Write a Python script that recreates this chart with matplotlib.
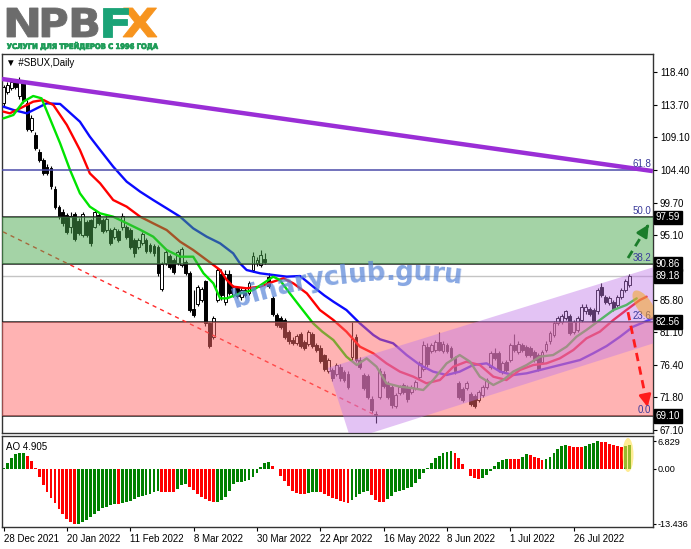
import numpy as np
import matplotlib
matplotlib.use("Agg")
import matplotlib.pyplot as plt
from matplotlib.patches import Polygon, Ellipse, PathPatch
from matplotlib.transforms import IdentityTransform, blended_transform_factory, Affine2D
from matplotlib.textpath import TextPath
from matplotlib.font_manager import FontProperties

# ---------------- data ----------------
date_labels = ["28 Dec 2021", "20 Jan 2022", "11 Feb 2022", "8 Mar 2022", "30 Mar 2022",
               "22 Apr 2022", "16 May 2022", "8 Jun 2022", "1 Jul 2022", "26 Jul 2022"]
date_label_bars = [0, 16, 32, 48, 64, 80, 96, 112, 128, 144]

opens = [113.9, 115.6, 116.1, 117.0, 115.0, 116.8, 113.9, 110.1, 109.4, 107.0,
         105.8, 104.8, 104.6, 101.7, 99.1, 98.4, 97.9, 96.2, 98.0, 97.0,
         95.1, 96.9, 97.2, 96.2, 97.9, 97.2, 95.8, 95.7, 94.8, 95.6,
         96.2, 96.2, 95.7, 94.3, 93.3, 93.9, 94.3, 93.6, 93.5, 93.3,
         87.3, 91.0, 92.0, 91.5, 91.0, 90.8, 91.2, 89.6, 84.5, 85.2,
         85.8, 88.4, 82.4, 80.5, 85.7, 89.5, 85.5, 89.5, 86.5, 87.5,
         86.1, 87.2, 86.7, 90.0, 91.0, 90.8, 91.6, 89.1, 86.0, 83.6,
         83.1, 82.8, 81.2, 80.0, 79.6, 80.9, 79.7, 79.5, 80.8, 79.3,
         78.8, 77.8, 75.5, 75.7, 75.2, 76.2, 75.4, 75.2, 77.5, 80.5,
         77.2, 75.0, 74.8, 71.6, 69.4, 71.9, 75.2, 73.8, 73.3, 70.5,
         72.4, 73.6, 73.3, 72.6, 73.1, 74.7, 75.9, 79.0, 78.5, 78.6,
         79.7, 78.4, 79.3, 78.8, 77.4, 73.8, 73.0, 73.1, 72.2, 72.0,
         71.4, 72.1, 73.3, 76.2, 78.1, 78.1, 75.5, 76.8, 77.1, 79.3,
         78.3, 79.3, 79.0, 78.8, 78.3, 77.8, 76.9, 78.6, 79.8, 80.7,
         82.4, 82.6, 83.1, 83.4, 81.2, 81.4, 82.9, 84.1, 84.5, 84.3,
         84.1, 87.6, 86.2, 85.3, 85.5, 85.0, 86.2, 87.2, 87.9]
highs = [116.6, 117.0, 117.3, 117.4, 117.7, 117.2, 114.4, 112.2, 109.8, 107.3,
         106.1, 105.2, 104.9, 102.0, 99.4, 98.8, 98.2, 98.4, 98.3, 97.5,
         98.3, 97.2, 97.4, 98.8, 98.2, 97.5, 97.7, 96.0, 96.2, 95.9,
         98.2, 96.5, 96.0, 94.6, 94.6, 95.5, 94.6, 93.9, 93.8, 93.6,
         91.2, 92.9, 92.3, 91.8, 92.9, 93.4, 91.5, 89.9, 87.2, 87.9,
         87.6, 88.6, 82.6, 83.5, 90.4, 90.2, 90.0, 90.0, 87.9, 87.8,
         87.5, 87.5, 88.4, 92.6, 91.9, 92.9, 92.4, 89.6, 86.3, 83.9,
         83.4, 83.1, 81.5, 80.4, 80.9, 81.2, 80.0, 81.5, 81.1, 79.6,
         79.3, 78.0, 77.4, 76.0, 76.7, 76.5, 75.7, 75.5, 82.6, 80.8,
         77.5, 75.3, 75.1, 72.0, 69.9, 76.0, 75.6, 74.1, 73.6, 72.4,
         73.6, 73.9, 73.6, 73.6, 74.3, 77.0, 79.8, 79.6, 79.6, 80.0,
         81.2, 79.8, 79.6, 79.1, 77.7, 74.1, 73.3, 74.1, 72.5, 72.3,
         72.9, 73.6, 74.6, 78.4, 78.9, 78.4, 77.0, 77.1, 79.6, 80.8,
         79.8, 79.6, 79.3, 79.1, 78.6, 78.1, 78.6, 79.8, 81.3, 82.7,
         83.4, 83.7, 84.3, 83.7, 82.9, 83.4, 85.1, 85.1, 84.8, 84.6,
         87.5, 88.2, 86.5, 86.3, 85.8, 86.5, 87.5, 88.7, 89.5]
lows = [113.6, 115.3, 115.8, 116.0, 114.6, 114.0, 109.9, 109.8, 107.2, 105.5,
        103.6, 103.6, 101.7, 98.8, 97.4, 96.4, 95.2, 95.3, 94.2, 95.0,
        94.8, 94.8, 93.5, 96.0, 96.5, 95.3, 95.5, 93.6, 94.5, 94.1,
        95.8, 94.5, 93.1, 91.9, 93.0, 93.6, 92.4, 92.5, 92.1, 89.2,
        87.0, 90.7, 90.2, 89.5, 90.7, 90.5, 89.3, 84.0, 83.3, 84.9,
        85.5, 82.0, 78.8, 80.2, 85.4, 85.7, 85.0, 86.4, 86.2, 86.0,
        85.8, 86.1, 86.4, 89.8, 90.6, 90.5, 90.9, 87.4, 83.5, 81.9,
        81.6, 80.2, 79.5, 79.3, 79.3, 78.8, 78.6, 79.2, 78.8, 78.3,
        76.7, 75.6, 75.3, 74.2, 74.9, 74.2, 74.0, 73.0, 77.1, 76.9,
        75.9, 72.8, 71.6, 69.6, 68.1, 71.5, 73.1, 71.6, 70.3, 70.2,
        72.1, 72.3, 71.1, 72.3, 72.8, 74.4, 75.6, 76.2, 78.2, 78.3,
        78.4, 78.1, 78.1, 77.3, 75.2, 71.6, 71.1, 72.8, 70.6, 70.2,
        71.1, 71.8, 73.0, 75.9, 77.1, 75.4, 75.2, 75.4, 76.8, 78.3,
        78.0, 78.3, 77.6, 77.6, 76.8, 75.6, 76.6, 78.3, 79.5, 80.4,
        82.1, 82.3, 82.8, 80.7, 80.9, 81.1, 82.6, 83.8, 83.5, 82.3,
        83.8, 86.2, 85.2, 85.0, 84.2, 84.7, 85.9, 86.9, 87.6]
closes = [116.3, 116.5, 116.9, 116.3, 117.0, 114.4, 110.3, 111.8, 107.5, 105.8,
          103.9, 104.0, 102.0, 99.1, 97.7, 96.7, 95.5, 97.7, 94.5, 95.3,
          98.0, 95.1, 93.9, 98.3, 96.8, 95.6, 97.4, 93.9, 95.9, 94.4,
          97.8, 94.8, 93.4, 92.5, 94.3, 95.2, 92.7, 92.8, 92.4, 89.6,
          90.9, 92.6, 90.5, 89.8, 92.6, 93.1, 89.6, 84.3, 83.6, 87.6,
          87.3, 82.4, 79.1, 83.1, 90.0, 86.5, 89.5, 86.7, 87.6, 86.3,
          87.2, 86.4, 88.1, 92.0, 91.5, 92.2, 91.2, 87.7, 83.8, 82.2,
          81.9, 80.5, 79.8, 79.6, 80.6, 79.1, 78.9, 81.2, 79.1, 78.6,
          77.0, 75.9, 77.1, 74.5, 76.4, 74.5, 74.3, 73.3, 80.2, 77.1,
          76.2, 73.1, 71.9, 70.0, 69.3, 75.5, 73.4, 71.9, 70.7, 72.1,
          73.3, 72.6, 71.5, 73.3, 74.0, 76.7, 79.3, 76.5, 79.3, 79.7,
          78.6, 79.5, 78.4, 77.6, 75.5, 71.9, 71.4, 73.8, 70.9, 70.6,
          72.6, 73.3, 74.3, 78.1, 77.4, 75.7, 76.7, 75.7, 79.3, 78.6,
          79.5, 78.6, 77.9, 77.9, 77.1, 75.9, 78.3, 79.5, 81.0, 82.4,
          83.1, 83.4, 84.1, 81.0, 82.6, 83.1, 84.8, 84.8, 83.8, 82.6,
          87.2, 86.5, 85.5, 86.0, 84.5, 86.2, 87.2, 88.4, 89.18]

# Alligator lines (bar index, price)
jaw_x = [0, 2.5, 5.9, 10.9, 14.3, 16, 19.3, 21.8, 24.4, 27.7, 31.1, 34.5, 37.8, 41.2, 44.6,
         47.9, 51.3, 54.7, 58.0, 59.7, 61.4, 64.8, 68.1, 71.5, 74.9, 78.2, 81.0, 83.3, 86.6,
         90.0, 93.4, 95.1, 98.4, 101.8, 105.2, 108.5, 111.9, 115.2, 118.6, 122.0, 125.4,
         128.7, 132.1, 135.5, 138.8, 142.2, 145.6, 148.9, 152.3, 155.7, 159.0, 164.0]
jaw_y = [113.43, 112.96, 112.48, 113.91, 113.82, 112.96, 111.28, 109.14, 107.23, 104.84,
         102.69, 101.26, 100.06, 98.87, 97.67, 96.00, 94.81, 93.85, 92.42, 90.99, 90.03,
         89.56, 89.32, 89.08, 89.17, 87.65, 86.4, 85.50, 84.30, 82.39, 80.72, 80.10, 79.53,
         77.85, 76.42, 75.47, 74.99, 75.47, 76.42, 76.66, 75.47, 74.99, 75.23, 75.71, 76.18,
         76.66, 77.14, 78.09, 79.14, 80.48, 81.91, 83.11]
teeth_x = [0, 1.6, 4.2, 7.5, 10.1, 12.6, 16, 19.3, 21.8, 24.4, 27.7, 31.1, 34.5, 37.8, 41.2,
           44.6, 47.9, 51.3, 54.7, 56.4, 58, 61.4, 64.8, 68.1, 70.7, 73.2, 76.6, 79.9, 83.3,
           86.6, 90.0, 93.4, 96.7, 100.1, 103.5, 106.8, 110.2, 113.6, 116.9, 120.3, 123.7,
           127.0, 130.4, 133.8, 137.1, 140.5, 143.9, 147.2, 150.6, 154.0, 157.3, 160.7, 162.4]
teeth_y = [112.72, 112.48, 113.19, 114.15, 114.39, 113.67, 110.81, 107.23, 103.88, 102.45,
           100.06, 99.11, 97.67, 96.72, 95.76, 94.09, 92.90, 91.47, 90.03, 88.60, 87.65,
           87.41, 87.65, 88.36, 88.84, 88.12, 86.69, 84.3, 82.87, 81.20, 79.05, 78.09, 76.66,
           75.47, 74.75, 73.80, 74.27, 76.18, 76.90, 76.42, 74.75, 74.27, 75.71, 76.42, 76.66,
           77.38, 78.57, 80.24, 81.20, 82.87, 84.30, 85.73, 86.21]
lips_x = [0, 2.5, 5, 7.5, 9.6, 11.7, 14.3, 16.8, 19.3, 21.8, 24.4, 27.7, 30.3, 34.5, 37.8,
          41.2, 44.6, 47.9, 50.5, 53, 54.7, 56.4, 59.7, 63.1, 65.6, 68.1, 69.8, 72.3, 74.9,
          78.2, 80.5, 83.3, 86.6, 89.2, 91.7, 94.2, 96.7, 100.1, 103.5, 106, 108.5, 111.9,
          115.2, 117.8, 120.3, 123.7, 126.2, 128.7, 132.1, 135.5, 138.8, 142.2, 144.7, 147.2,
          150.6, 154, 157.3, 159.9]
lips_y = [111.76, 112.24, 114.15, 114.96, 114.63, 111.76, 108.18, 104.36, 101.02, 99.11,
          98.15, 97.67, 96.96, 95.80, 94.81, 92.90, 91.94, 91.94, 89.56, 88.12, 85.97,
          85.97, 86.69, 87.17, 88.12, 89.08, 88.60, 86.69, 84.78, 82.39, 81.2, 80.0, 77.62,
          76.42, 77.38, 76.18, 73.80, 73.32, 73.08, 72.84, 74.27, 76.66, 77.85, 76.90, 74.75,
          73.56, 74.27, 75.47, 76.42, 77.62, 77.85, 79.05, 80.48, 81.44, 82.87, 84.30,
          85.02, 85.97]

ao_values = [0.26, 1.39, 2.62, 3.67, 3.91, 3.95, 3.16, 1.94, 0.35, -2.05,
             -3.92, -5.56, -7.18, -8.41, -9.88, -11.11, -12.33, -12.90, -13.436, -13.40,
             -12.90, -12.50, -11.68, -11.02, -10.21, -9.64, -9.29, -8.92, -8.59, -8.68,
             -8.45, -8.17, -7.84, -7.42, -6.95, -6.62, -6.37, -6.11, -5.64, -5.41,
             -5.55, -5.64, -5.69, -5.73, -4.89, -3.86, -3.77, -4.33, -5.08, -6.01,
             -6.76, -7.32, -7.89, -8.17, -7.98, -7.61, -6.95, -5.36, -3.58, -3.30,
             -3.11, -3.02, -2.74, -1.90, -0.87, 0.44, 1.57, 1.66, 0.72, -0.12,
             -1.62, -3.02, -4.24, -5.36, -5.83, -6.01, -6.11, -5.92, -5.64, -5.55,
             -5.64, -6.01, -6.58, -7.04, -7.42, -7.79, -8.07, -8.26, -7.61, -6.86,
             -6.20, -5.64, -5.27, -6.39, -7.51, -7.98, -8.03, -7.32, -6.62, -5.55,
             -5.31, -5.17, -4.70, -4.33, -3.49, -2.55, -1.05, 0.26, 1.47, 2.60,
             3.25, 3.81, 4.09, 4.33, 4.00, 2.78, 1.19, -0.02, -1.71, -2.27,
             -2.36, -2.18, -1.52, -0.59, 0.63, 1.66, 2.32, 2.50, 2.46, 2.41,
             2.36, 2.97, 3.58, 3.35, 2.97, 2.60, 2.32, 2.41, 2.97, 4.00,
             4.84, 5.59, 5.78, 5.64, 5.50, 5.41, 5.31, 5.69, 6.06, 6.34,
             6.829, 6.70, 6.55, 6.25, 5.95, 5.65, 5.45, 5.70, 5.88]
ao_ticks = [6.829, 0.0, -13.436]
ao_tick_labels = ["6.829", "0.00", "-13.436"]
ao_current = 4.905

fib_levels = [69.10, 82.56, 90.86, 97.59, 104.40]
fib_names = ["0.0", "23.6", "38.2", "50.0", "61.8"]
price_ticks = [118.40, 113.70, 109.10, 104.40, 99.70, 95.10, 85.80, 81.10, 76.40, 71.80, 67.10]
boxed_prices = [97.59, 90.86, 89.18, 82.56, 69.10]
last_price = 89.18

trend_x = [-0.4, 164.0]          # long purple resistance line
trend_y = [117.4, 104.2]
support_x = [-0.1, 93.3]         # red dashed support line
support_y = [95.5, 69.4]
channel_x = [81.9, 175.9, 181.4, 87.7]   # rising channel corners
channel_y = [76.0, 92.5, 82.64, 65.75]
up_arrow = [(157.7, 91.75), (163.3, 96.9)]
down_arrow = [(157.7, 84.0), (162.8, 70.0)]

# ---------------- figure ----------------
W, H = 691, 549
fig = plt.figure(figsize=(W / 100, H / 100), dpi=100)
fig.patch.set_facecolor("white")
FONT = ["Liberation Sans", "DejaVu Sans"]
plt.rcParams["font.family"] = FONT

L, R = 2, 653
MT, MB = 54, 433
AT, AB = 436, 527
ax = fig.add_axes([L / W, 1 - MB / H, (R - L) / W, (MB - MT) / H])
ax2 = fig.add_axes([L / W, 1 - AB / H, (R - L) / W, (AB - AT) / H])

x0 = (L - 3.5) / 3.96
x1 = (R - 3.5) / 3.96
ax.set_xlim(x0, x1)
ax2.set_xlim(x0, x1)
ax.set_ylim(118.4 - (MB - 72) / 6.98, 118.4 + (72 - MT) / 6.98)
ax2.set_ylim(-(AB - 469) / 4.08, (469 - AT) / 4.08)

o = np.array(opens); h = np.array(highs); l = np.array(lows); c = np.array(closes)
idx = np.arange(len(c))
up = c >= o

# candles
ax.vlines(idx, l, h, color="black", lw=0.8, zorder=2)
ax.bar(idx, np.maximum(np.abs(c - o), 0.08), bottom=np.minimum(o, c), width=0.72,
       color=np.where(up, "white", "black"), edgecolor="black", linewidth=0.7, zorder=2.1)

# alligator
ax.plot(jaw_x, jaw_y, color="#0a0aff", lw=1.7, zorder=3, solid_capstyle="round")
ax.plot(teeth_x, teeth_y, color="#ff0000", lw=1.7, zorder=3.05, solid_capstyle="round")
ax.plot(lips_x, lips_y, color="#00e400", lw=1.7, zorder=3.1, solid_capstyle="round")

# horizontal levels
ax.axhline(last_price, color="#c4c4c4", lw=1, zorder=1.5)
for lv in fib_levels:
    col = "#4b4baa" if lv > 100 else "#202020"
    ax.axhline(lv, color=col, lw=1.1, zorder=3.5)
ax.plot(support_x, support_y, color="#ff2a2a", lw=1, ls=(0, (3, 3)), zorder=3.6)

# zones and channel overlays
ax.axhspan(fib_levels[2], fib_levels[3], color="#4aa84f", alpha=0.5, lw=0, zorder=4)
ax.axhspan(fib_levels[0], fib_levels[1], color="#ff6868", alpha=0.5, lw=0, zorder=4)
ax.add_patch(Polygon(list(zip(channel_x, channel_y)), closed=True, facecolor="#c27ae8",
                     alpha=0.45, lw=0, zorder=4.1))

# trend line
ax.plot(trend_x, trend_y, color="#9a2ed6", lw=3.2, zorder=5, solid_capstyle="butt")

# arrows
for (s, e), col in [((up_arrow[0], up_arrow[1]), "#1b7d2b"), ((down_arrow[0], down_arrow[1]), "#ff1c1c")]:
    fx = s[0] + 0.82 * (e[0] - s[0]); fyv = s[1] + 0.82 * (e[1] - s[1])
    ax.plot([s[0], fx], [s[1], fyv], color=col, lw=2, ls=(0, (3, 2)), zorder=6)
    ax.annotate("", xy=e, xytext=(fx, fyv),
                arrowprops=dict(arrowstyle="-|>,head_length=0.7,head_width=0.35", color=col, lw=2),
                zorder=6)

# fib labels
bt = blended_transform_factory(ax.transAxes, ax.transData)
for lv, nm in zip(fib_levels, fib_names):
    ax.text(0.997, lv + 0.15, nm, transform=bt, ha="right", va="bottom", fontsize=7,
            color="#3a3a9a", zorder=8)

# axes styling
for a in (ax, ax2):
    for sp in a.spines.values():
        sp.set_color("#333333"); sp.set_linewidth(1)
    a.set_facecolor("white")
ax.set_xticks([])
ax.yaxis.tick_right()
ax.set_yticks(price_ticks)
ax.set_yticklabels([f"{v:.2f}" for v in price_ticks])
ax.tick_params(axis="y", length=3, pad=2, labelsize=7, colors="black")

for bp in boxed_prices:
    ax.text(1.004, bp, f"{bp:.2f}", transform=bt, ha="left", va="center", fontsize=7,
            color="white", zorder=9, clip_on=False,
            bbox=dict(boxstyle="square,pad=0.18", fc="black", ec="black"))

# AO histogram
ao = np.array(ao_values)
ao_col = ["#008000" if (i == 0 or ao[i] > ao[i - 1]) else "#ff0000" for i in range(len(ao))]
ax2.bar(idx, ao, width=0.72, color=ao_col, lw=0, zorder=2)
ax2.yaxis.tick_right()
ax2.set_yticks(ao_ticks)
ax2.set_yticklabels(ao_tick_labels)
ax2.tick_params(axis="y", length=2, pad=1, labelsize=6.6)
ax2.set_xticks(date_label_bars)
ax2.set_xticklabels(date_labels, ha="left")
ax2.tick_params(axis="x", length=3, pad=2, labelsize=7)
ax2.text(0.006, 0.93, f"AO {ao_current:.3f}", transform=ax2.transAxes, fontsize=7,
         va="top", ha="left")

# ellipses (pixel coordinates)
def pxy(x, y):
    return (x, H - y)
e1 = Ellipse(pxy(644, 305), 34, 15, angle=-55, transform=IdentityTransform(),
             facecolor="#f5a623", alpha=0.55, lw=0, zorder=7)
e1.set_clip_box(ax.bbox)
fig.add_artist(e1)
e2 = Ellipse(pxy(628, 455), 11, 34, angle=0, transform=IdentityTransform(),
             facecolor="#ffe14d", alpha=0.6, lw=0, zorder=7)
fig.add_artist(e2)

# chart title
fig.text(6 / W, 1 - 63 / H, "▼ #SBUX,Daily", fontsize=7, va="center", ha="left")

# watermark along an arc
renderer = fig.canvas.get_renderer()
wm_prop = FontProperties(family="DejaVu Sans", weight="bold", size=19)
xcur = 234.0
for ch in "binaryclub.guru":
    w, hh, d = renderer.get_text_width_height_descent(ch, wm_prop, ismath=False)
    xc = xcur + w / 2
    yb = 280 + 0.00102 * (xc - 400) ** 2
    ang = np.degrees(np.arctan(-2 * 0.00102 * (xc - 400)))
    fig.text(xc / W, 1 - yb / H, ch, fontproperties=wm_prop, color="#5a86d8", alpha=0.72,
             ha="center", va="baseline", rotation=ang, rotation_mode="anchor", zorder=10)
    xcur += w * 0.96

# logo letters fitted into boxes (pixel coords)
def fit_text(s, box, color, weight="bold", family="DejaVu Sans"):
    xl, xr, yt, yb = box
    tp = TextPath((0, 0), s, size=40, prop=FontProperties(family=family, weight=weight))
    ext = tp.get_extents()
    sx = (xr - xl) / ext.width
    sy = (yb - yt) / ext.height
    tr = Affine2D().translate(-ext.x0, -ext.y0).scale(sx, sy).translate(xl, H - yb)
    patch = PathPatch(tr.transform_path(tp), facecolor=color, lw=0.6, edgecolor=color,
                      transform=IdentityTransform())
    fig.add_artist(patch)

fit_text("N", (7, 38, 8, 37), "#6c6c6c")
fit_text("P", (42, 67, 8, 37), "#6c6c6c")
fit_text("B", (72, 98, 8, 37), "#6c6c6c")
fit_text("X", (123, 157, 8, 37), "#f7941e")
fit_text("F", (103, 128, 8, 37), "#1ba377")
fit_text("УСЛУГИ ДЛЯ ТРЕЙДЕРОВ С 1996 ГОДА", (7, 158, 42, 50), "#1a9a55")

fig.savefig("out.png", dpi=100, facecolor="white")
